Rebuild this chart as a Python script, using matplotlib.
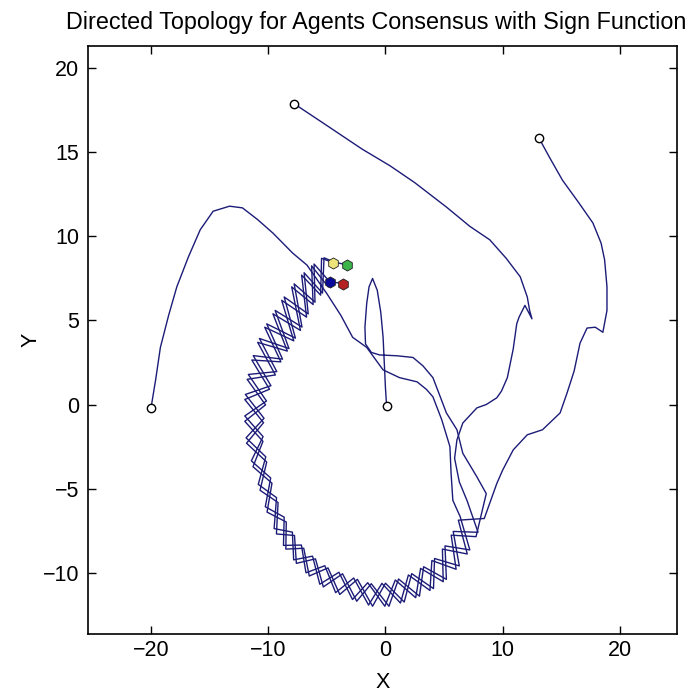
import numpy as np
import matplotlib
matplotlib.use('Agg')
import matplotlib.pyplot as plt

plt.rcParams['font.family'] = ['Liberation Sans', 'DejaVu Sans']

# start points of the four agents
start_x = [-20.0, -7.8, 13.1, 0.1]
start_y = [-0.2, 17.9, 15.85, -0.1]

# end points (final positions) and their colours
end_x = [-4.45, -3.3, -4.75, -3.6]
end_y = [8.44, 8.3, 7.3, 7.2]
end_colors = ['#ece37a', '#3cb44b', '#0a0a9a', '#b52020']

# agent 1: from (-20, 0)
agent1 = [(-20.0, -0.2), (-19.6, 1.5), (-19.2, 3.4), (-18.5, 5.3), (-17.8, 7.0),
          (-16.8, 8.8), (-15.8, 10.4), (-14.7, 11.5), (-13.3, 11.8), (-12.2, 11.7),
          (-10.9, 11.0), (-9.6, 10.2), (-7.9, 9.0), (-6.7, 8.3), (-5.0, 6.6),
          (-3.8, 5.3), (-2.8, 4.0), (-1.6, 3.4), (-0.2, 2.06), (1.2, 1.6),
          (2.7, 1.35), (3.5, 0.9), (4.05, 0.46), (4.8, -0.9), (5.5, -2.5),
          (5.6, -4.1), (5.75, -5.7),
          (6.37, -6.66), (7.2, -8.65), (5.08, -8.41), (5.2, -10.4), (3.26, -9.65),
          (2.9, -11.4), (1.12, -10.38), (0.3, -12.0), (-1.21, -10.66), (-2.45, -11.7),
          (-3.66, -10.07), (-5.3, -10.85), (-5.97, -9.18), (-7.6, -9.45), (-7.76, -7.79),
          (-9.3, -7.7), (-9.16, -5.83), (-10.7, -5.1), (-10.13, -3.42), (-11.85, -2.3),
          (-10.4, -1.08), (-12.0, 0.3), (-9.89, 0.91), (-11.4, 2.65), (-8.92, 2.54),
          (-10.3, 4.6), (-7.82, 3.79), (-8.85, 6.2), (-6.73, 5.2), (-7.15, 7.7),
          (-5.53, 6.51), (-5.45, 8.7), (-4.45, 8.44)]

# agent 2: from (-7.8, 17.9)
agent2 = [(-7.8, 17.9), (-5.0, 16.6), (-2.0, 15.2), (0.4, 14.2), (2.5, 13.2),
          (5.2, 11.75), (7.2, 10.6), (8.9, 9.8), (10.3, 8.7), (11.5, 7.6),
          (12.1, 6.4), (12.3, 5.6), (12.5, 5.1), (11.9, 5.9), (11.4, 5.2),
          (11.2, 4.8), (10.9, 3.3), (10.4, 1.6), (9.9, 0.8), (9.5, 0.4),
          (8.6, 0.0), (7.8, -0.2), (6.6, -1.1), (6.1, -2.1), (5.9, -3.2),
          (6.3, -4.6),
          (6.97, -5.73), (7.9, -7.6), (5.78, -7.55), (6.3, -9.6), (4.19, -9.16),
          (4.1, -10.95), (2.24, -10.06), (1.6, -11.75), (0.0, -10.63), (-1.1, -12.0),
          (-2.39, -10.4), (-3.9, -11.3), (-4.9, -9.72), (-6.5, -10.2), (-6.97, -8.55),
          (-8.5, -8.6), (-8.46, -6.99), (-10.1, -6.4), (-9.68, -4.68), (-11.3, -3.7),
          (-10.45, -2.19), (-12.0, -1.0), (-10.23, -0.02), (-11.8, 1.5), (-9.39, 1.76),
          (-10.9, 3.7), (-8.37, 3.18), (-9.6, 5.4), (-7.25, 4.41), (-8.0, 7.0),
          (-6.17, 5.95), (-6.3, 8.25), (-4.87, 6.99), (-4.75, 7.3), (-3.6, 7.2)]

# agent 3: from (13.1, 15.9)
agent3 = [(13.1, 15.85), (14.0, 14.7), (15.1, 13.35), (16.5, 12.0), (17.7, 10.8),
          (18.4, 9.6), (18.7, 8.6), (18.9, 7.0), (18.9, 5.6), (18.55, 4.3),
          (17.9, 4.6), (17.2, 4.55), (16.6, 3.65), (16.1, 2.0), (15.5, 0.7),
          (14.9, -0.5), (13.4, -1.5), (12.1, -1.8), (10.9, -2.7), (10.0, -3.9),
          (9.5, -4.7),
          (8.43, -6.78), (6.22, -6.88), (6.98, -8.89), (4.86, -8.6), (4.93, -10.54),
          (3.0, -9.75), (2.58, -11.49), (0.84, -10.44), (-0.05, -12.0), (-1.51, -10.6),
          (-2.81, -11.6), (-3.97, -9.98), (-5.6, -10.69), (-6.22, -9.02), (-7.83, -9.24),
          (-7.94, -7.59), (-9.5, -7.38), (-9.29, -5.54), (-10.85, -4.75), (-10.21, -3.11),
          (-11.89, -1.98), (-10.36, -0.82), (-11.95, 0.6), (-9.77, 1.12), (-11.28, 2.91),
          (-8.78, 2.7), (-10.13, 4.8), (-7.68, 3.95), (-8.64, 6.4), (-6.59, 5.39),
          (-6.94, 7.84), (-5.37, 6.63), (-5.24, 8.73), (-4.45, 8.5), (-3.3, 8.3)]

# agent 4: from (0, 0)
agent4 = [(0.1, -0.1), (0.0, 1.0), (-0.1, 2.5), (-0.2, 4.0), (-0.4, 5.5),
          (-0.7, 6.8), (-1.1, 7.5), (-1.4, 7.0), (-1.6, 6.0), (-1.75, 4.6),
          (-1.7, 3.6), (-1.2, 3.1), (-0.5, 2.95), (1.0, 2.9), (2.35, 2.8),
          (3.2, 2.3), (4.05, 1.6), (4.6, 0.6), (5.2, -0.5), (6.1, -1.5),
          (6.6, -2.9), (7.8, -4.3), (8.6, -5.3),
          (7.73, -7.86), (5.61, -7.77), (6.03, -9.8), (3.96, -9.28), (3.8, -11.06),
          (1.96, -10.14), (1.28, -11.81), (-0.3, -10.64), (-1.44, -11.93), (-2.71, -10.32),
          (-4.25, -11.19), (-5.17, -9.59), (-6.78, -10.01), (-7.17, -8.36), (-8.7, -8.38),
          (-8.64, -6.7), (-10.25, -6.08), (-9.79, -4.37), (-11.44, -3.35), (-10.44, -1.91),
          (-12.0, -0.68), (-10.15, 0.21), (-11.7, 1.79), (-9.27, 1.96), (-10.75, 3.93),
          (-8.23, 3.33), (-9.41, 5.6), (-7.12, 4.61), (-7.79, 7.18), (-6.01, 6.09),
          (-6.09, 8.36), (-4.75, 7.3)]

agents = [agent1, agent2, agent3, agent4]
line_color = '#1c1c78'

fig = plt.figure(figsize=(6.94, 6.95), dpi=100)
ax = fig.add_axes([0.1264, 0.0878, 0.8487, 0.8465])

for path in agents:
    xs, ys = zip(*path)
    ax.plot(xs, ys, color=line_color, lw=1.0)

ax.plot(start_x, start_y, linestyle='none', marker='o', markersize=6,
        markerfacecolor='white', markeredgecolor='black', markeredgewidth=1.0)
for x, y, c in zip(end_x, end_y, end_colors):
    ax.plot(x, y, linestyle='none', marker='h', markersize=8,
            markerfacecolor=c, markeredgecolor='#202020', markeredgewidth=0.6)

ax.set_xlim(-25.4, 24.85)
ax.set_ylim(-13.65, 21.35)
ax.set_xticks([-20, -10, 0, 10, 20])
ax.set_yticks([-10, -5, 0, 5, 10, 15, 20])
ax.tick_params(direction='in', length=6, width=1, top=True, right=True,
               labelsize=15.5)
ax.tick_params(axis='x', pad=4)
ax.tick_params(axis='y', pad=6)
for sp in ax.spines.values():
    sp.set_linewidth(1.2)

ax.set_xlabel('X', fontsize=15.5, labelpad=8)
ax.set_ylabel('Y', fontsize=15.5, labelpad=1)
ax.set_title('Directed Topology for Agents Consensus with Sign Function',
             fontsize=16.8, pad=12, x=0.489)

fig.savefig('out.png', dpi=100)
